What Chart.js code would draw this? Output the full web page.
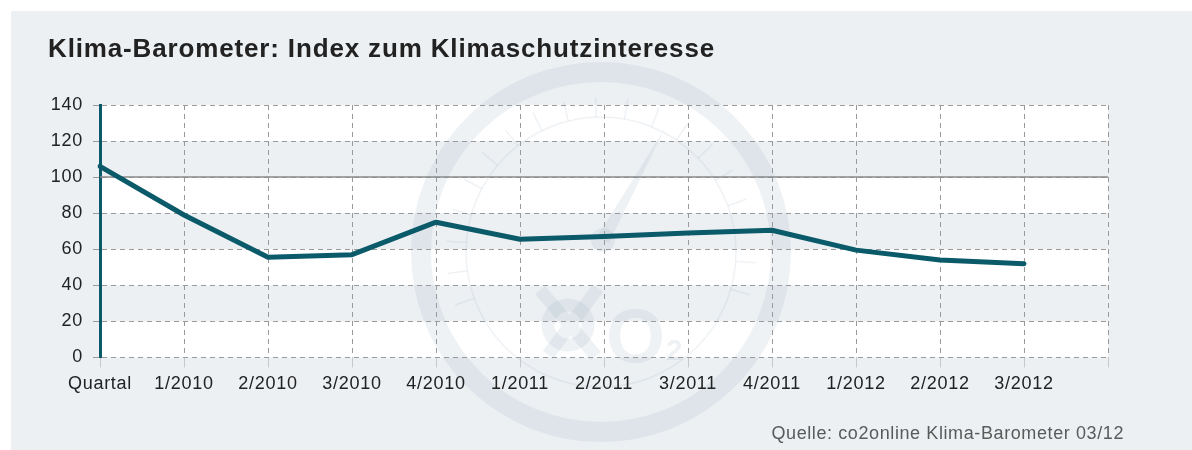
<!DOCTYPE html>
<html>
<head>
<meta charset="utf-8">
<script src="https://cdn.jsdelivr.net/npm/chart.js@4/dist/chart.umd.min.js"></script>
<style>
  html, body { margin: 0; padding: 0; background: #ffffff; }
  #wrap { position: absolute; left: 0; top: 0; width: 1192px; height: 450px; }
</style>
</head>
<body>
<div id="wrap"><canvas id="klimaChart"></canvas></div>
<script>
// quarter labels (last one is the empty slot at the right edge)
const quarters = ["Quartal", "1/2010", "2/2010", "3/2010", "4/2010", "1/2011", "2/2011",
                  "3/2011", "4/2011", "1/2012", "2/2012", "3/2012", ""];
// index values
const indexValues = [106, 79, 55.5, 57, 75, 65.5, 67, 69, 70.5, 59.5, 54, 52];
const yTicks = [0, 20, 40, 60, 80, 100, 120, 140];

const titleText = "Klima-Barometer: Index zum Klimaschutzinteresse";
const sourceText = "Quelle: co2online Klima-Barometer 03/12";

const panelColor = "#ecf0f3";
const lineColor = "#0a5a6a";
const markColor = "rgba(120,150,170,0.12)";
const font = "'Liberation Sans', Arial, sans-serif";

// panel, white bands, faint barometer watermark, 100-line, title and source
const decorations = {
    id: "decorations",
    beforeDraw(chart) {
        const ctx = chart.ctx;
        const area = chart.chartArea;
        const y = chart.scales.y;
        ctx.save();
        ctx.fillStyle = "#ffffff";
        ctx.fillRect(0, 0, chart.width, chart.height);
        ctx.fillStyle = panelColor;
        ctx.fillRect(11, 11, chart.width - 11, chart.height - 11);

        // white bands 0-20, 40-60, 80-100, 120-140
        ctx.fillStyle = "#ffffff";
        for (let v = 0; v < 140; v += 40) {
            const top = y.getPixelForValue(v + 20);
            const bottom = y.getPixelForValue(v);
            ctx.fillRect(area.left, top, area.right - area.left, bottom - top);
        }

        // watermark
        const cx = 601, cy = 252;
        ctx.strokeStyle = markColor;
        ctx.fillStyle = markColor;
        ctx.lineWidth = 20;
        ctx.beginPath();
        ctx.arc(cx, cy, 180, 0, Math.PI * 2);
        ctx.stroke();
        ctx.lineWidth = 1.5;
        ctx.beginPath();
        ctx.arc(cx, cy, 135, 0, Math.PI * 2);
        ctx.stroke();
        for (let a = -200; a <= 20; a += 12) {
            const r = a * Math.PI / 180;
            ctx.beginPath();
            ctx.moveTo(cx + Math.cos(r) * 135, cy + Math.sin(r) * 135);
            ctx.lineTo(cx + Math.cos(r) * 155, cy + Math.sin(r) * 155);
            ctx.stroke();
        }
        // needle
        const hx = 603, hy = 240;
        ctx.beginPath();
        ctx.moveTo(hx - 6, hy - 3);
        ctx.lineTo(665, 128);
        ctx.lineTo(hx + 6, hy + 3);
        ctx.closePath();
        ctx.fill();
        ctx.beginPath();
        ctx.arc(hx, hy, 12, 0, Math.PI * 2);
        ctx.fill();
        // CO2 logo
        ctx.font = "bold 76px " + font;
        ctx.fillText("O", 606, 362);
        ctx.font = "bold 30px " + font;
        ctx.fillText("2", 666, 360);
        ctx.lineWidth = 13;
        ctx.beginPath();
        ctx.arc(568, 325, 20, 0, Math.PI * 2);
        ctx.stroke();
        ctx.beginPath();
        ctx.moveTo(540, 290);
        ctx.lineTo(596, 356);
        ctx.moveTo(548, 355);
        ctx.lineTo(598, 288);
        ctx.stroke();
        ctx.restore();
        // wider letter spacing for the tick labels
        ctx.letterSpacing = "0.7px";
    },
    beforeDatasetsDraw(chart) {
        const ctx = chart.ctx;
        const area = chart.chartArea;
        const yy = chart.scales.y.getPixelForValue(100);
        ctx.save();
        ctx.strokeStyle = "#8a8a8a";
        ctx.lineWidth = 1.5;
        ctx.beginPath();
        ctx.moveTo(area.left, yy);
        ctx.lineTo(area.right, yy);
        ctx.stroke();
        ctx.restore();
    },
    afterDraw(chart) {
        const ctx = chart.ctx;
        ctx.save();
        ctx.fillStyle = "#222222";
        ctx.font = "bold 26px " + font;
        ctx.letterSpacing = "0.85px";
        ctx.textBaseline = "alphabetic";
        ctx.fillText(titleText, 48, 57);
        ctx.fillStyle = "#5a5a5a";
        ctx.font = "18px " + font;
        ctx.letterSpacing = "0.6px";
        ctx.textAlign = "right";
        ctx.fillText(sourceText, 1124, 439);
        ctx.restore();
        ctx.letterSpacing = "0px";
    }
};

new Chart(document.getElementById("klimaChart").getContext("2d"), {
    type: "line",
    data: {
        labels: quarters,
        datasets: [{
            label: "Klima-Barometer",
            data: indexValues,
            borderColor: lineColor,
            borderWidth: 5,
            borderCapStyle: "round",
            borderJoinStyle: "round",
            pointRadius: 0,
            tension: 0,
            fill: false
        }]
    },
    options: {
        responsive: true,
        maintainAspectRatio: false,
        animation: false,
        layout: { padding: { left: 0, right: 84, top: 105, bottom: 49 } },
        plugins: {
            legend: { display: false },
            tooltip: { enabled: false }
        },
        scales: {
            x: {
                offset: false,
                grid: {
                    color: "#9a9a9a",
                    lineWidth: 1,
                    tickLength: 10,
                    tickColor: "#c8c8c8"
                },
                border: { display: false, dash: [5, 4] },
                ticks: {
                    color: "#222222",
                    font: { family: font, size: 18 },
                    padding: 6,
                    maxRotation: 0,
                    autoSkip: false
                }
            },
            y: {
                min: 0,
                max: 140,
                afterFit(scale) { scale.width = 100; },
                afterBuildTicks(scale) { scale.ticks = yTicks.map(v => ({ value: v })); },
                grid: {
                    color: "#9a9a9a",
                    lineWidth: 1,
                    tickLength: 7,
                    tickColor: "#9a9a9a"
                },
                border: { display: true, color: lineColor, width: 3, dash: [5, 4] },
                ticks: {
                    color: "#222222",
                    font: { family: font, size: 18 },
                    padding: 10
                }
            }
        }
    },
    plugins: [decorations]
});
</script>
</body>
</html>
